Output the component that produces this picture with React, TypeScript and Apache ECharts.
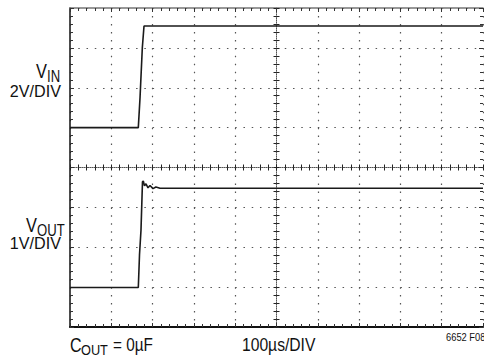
import React, { useEffect, useRef } from "react";
import * as echarts from "echarts";

// time in microseconds (100 µs/DIV), amplitude in screen divisions (0 = bottom edge)
const vinTime = [0, 165.4, 169.5, 175.1, 179.2, 1000];
const vinDiv = [5.0, 5.0, 5.74, 7.0, 7.55, 7.55];
const voutTime = [0, 165.4, 168.3, 171.9, 175.5, 177.5, 180.4, 184, 188.9, 193.7, 201, 208, 218, 1000];
const voutDiv = [0.99, 0.99, 1.81, 2.43, 3.64, 3.66, 3.54, 3.59, 3.49, 3.55, 3.47, 3.51, 3.48, 3.48];

const X_MIN = 0, X_MAX = 1000, X_STEP = 100;
const Y_MIN = 0, Y_MAX = 8, Y_STEP = 1;

const FONT = "'Liberation Sans', Arial, sans-serif";

export default function App() {
  const ref = useRef<HTMLDivElement>(null);
  useEffect(() => {
    if (!ref.current) return;
    const chart = echarts.init(ref.current, undefined, { renderer: "svg" });
    const gridRect = { left: 70, top: 8, width: 413, height: 319 };
    const dotV = [1.5, 319 / 40 - 1.5];
    const dotH = [1.5, 413 / 50 - 1.5];
    const txt = (o: any) => ({
      type: "text",
      x: o.x,
      y: o.y,
      scaleX: o.sx ?? 1,
      silent: true,
      style: {
        text: o.text,
        fontSize: o.size,
        fontFamily: FONT,
        fill: "#111",
        align: o.align ?? "left",
        verticalAlign: "middle",
        textAlign: o.align ?? "left",
        textVerticalAlign: "middle",
      },
    });
    const centerAxisX = (gi: number, inside: boolean) => ({
      type: "value",
      gridIndex: gi,
      min: -500,
      max: 500,
      interval: 100,
      axisLine: { show: inside, onZero: true, lineStyle: { color: "#555", width: 1, type: [1, 1] } },
      axisTick: { show: true, inside, length: 3, lineStyle: { color: "#222", width: 1 } },
      minorTick: { show: true, splitNumber: 5, length: 3, lineStyle: { color: "#222", width: 1 } },
      axisLabel: { show: false },
      splitLine: { show: false },
    });
    const centerAxisY = (gi: number, inside: boolean) => ({
      type: "value",
      gridIndex: gi,
      min: -4,
      max: 4,
      interval: 1,
      axisLine: { show: inside, onZero: true, lineStyle: { color: "#555", width: 1, type: [1, 1] } },
      axisTick: { show: true, inside, length: 3, lineStyle: { color: "#222", width: 1 } },
      minorTick: { show: true, splitNumber: 5, length: 3, lineStyle: { color: "#222", width: 1 } },
      axisLabel: { show: false },
      splitLine: { show: false },
    });
    const edgeTick = { show: true, inside: true, length: 4, lineStyle: { color: "#333", width: 1 } };
    const edgeMinor = { show: true, splitNumber: 5, length: 3, lineStyle: { color: "#333", width: 1 } };
    chart.setOption({
      animation: false,
      backgroundColor: "#fff",
      grid: [
        { ...gridRect },
        { ...gridRect },
        { ...gridRect },
      ],
      xAxis: [
        {
          type: "value", gridIndex: 0, position: "bottom",
          min: X_MIN, max: X_MAX, interval: X_STEP,
          axisLine: { show: true, onZero: false, lineStyle: { color: "#111", width: 2 } },
          axisTick: edgeTick, minorTick: edgeMinor,
          axisLabel: { show: false },
          splitLine: { show: true, lineStyle: { color: "#555", width: 1.2, type: dotV } },
        },
        {
          type: "value", gridIndex: 0, position: "top",
          min: X_MIN, max: X_MAX, interval: X_STEP,
          axisLine: { show: true, onZero: false, lineStyle: { color: "#777", width: 1.5 } },
          axisTick: edgeTick, minorTick: edgeMinor,
          axisLabel: { show: false },
          splitLine: { show: false },
        },
        centerAxisX(1, true),
        centerAxisX(2, false),
      ],
      yAxis: [
        {
          type: "value", gridIndex: 0, position: "left",
          min: Y_MIN, max: Y_MAX, interval: Y_STEP,
          axisLine: { show: true, onZero: false, lineStyle: { color: "#111", width: 1.5 } },
          axisTick: edgeTick, minorTick: edgeMinor,
          axisLabel: { show: false },
          splitLine: { show: true, lineStyle: { color: "#555", width: 1.2, type: dotH } },
        },
        {
          type: "value", gridIndex: 0, position: "right",
          min: Y_MIN, max: Y_MAX, interval: Y_STEP,
          axisLine: { show: false, onZero: false },
          axisTick: edgeTick, minorTick: edgeMinor,
          axisLabel: { show: false },
          splitLine: { show: false },
        },
        centerAxisY(1, true),
        centerAxisY(2, false),
      ],
      series: [
        {
          name: "VIN", type: "line", xAxisIndex: 0, yAxisIndex: 0,
          data: vinTime.map((t, i) => [t, vinDiv[i]]),
          symbol: "none", lineStyle: { color: "#1a1a1a", width: 1.6 },
          z: 10,
        },
        {
          name: "VOUT", type: "line", xAxisIndex: 0, yAxisIndex: 0,
          data: voutTime.map((t, i) => [t, voutDiv[i]]),
          symbol: "none", lineStyle: { color: "#1a1a1a", width: 1.6 },
          z: 10,
        },
      ],
      graphic: [
        txt({ text: "V", x: 47, y: 71, size: 21, align: "right", sx: 0.78 }),
        txt({ text: "IN", x: 47, y: 77, size: 16, sx: 0.82 }),
        txt({ text: "2V/DIV", x: 61, y: 91, size: 17, align: "right", sx: 0.95 }),
        txt({ text: "V", x: 37, y: 225, size: 21, align: "right", sx: 0.78 }),
        txt({ text: "OUT", x: 37, y: 231, size: 16, sx: 0.82 }),
        txt({ text: "1V/DIV", x: 61, y: 243, size: 17, align: "right", sx: 0.95 }),
        txt({ text: "C", x: 70, y: 345, size: 20, sx: 0.8 }),
        txt({ text: "OUT", x: 81, y: 350, size: 15, sx: 0.85 }),
        txt({ text: "= 0µF", x: 113, y: 345, size: 18, sx: 0.85 }),
        txt({ text: "100µs/DIV", x: 242, y: 345, size: 18, sx: 0.87 }),
        txt({ text: "6652 F08", x: 446, y: 337.5, size: 11, sx: 0.85 }),
      ],
    });
    return () => chart.dispose();
  }, []);
  return <div ref={ref} style={{ width: 484, height: 358, position: "absolute", left: 0, top: 0 }} />;
}
